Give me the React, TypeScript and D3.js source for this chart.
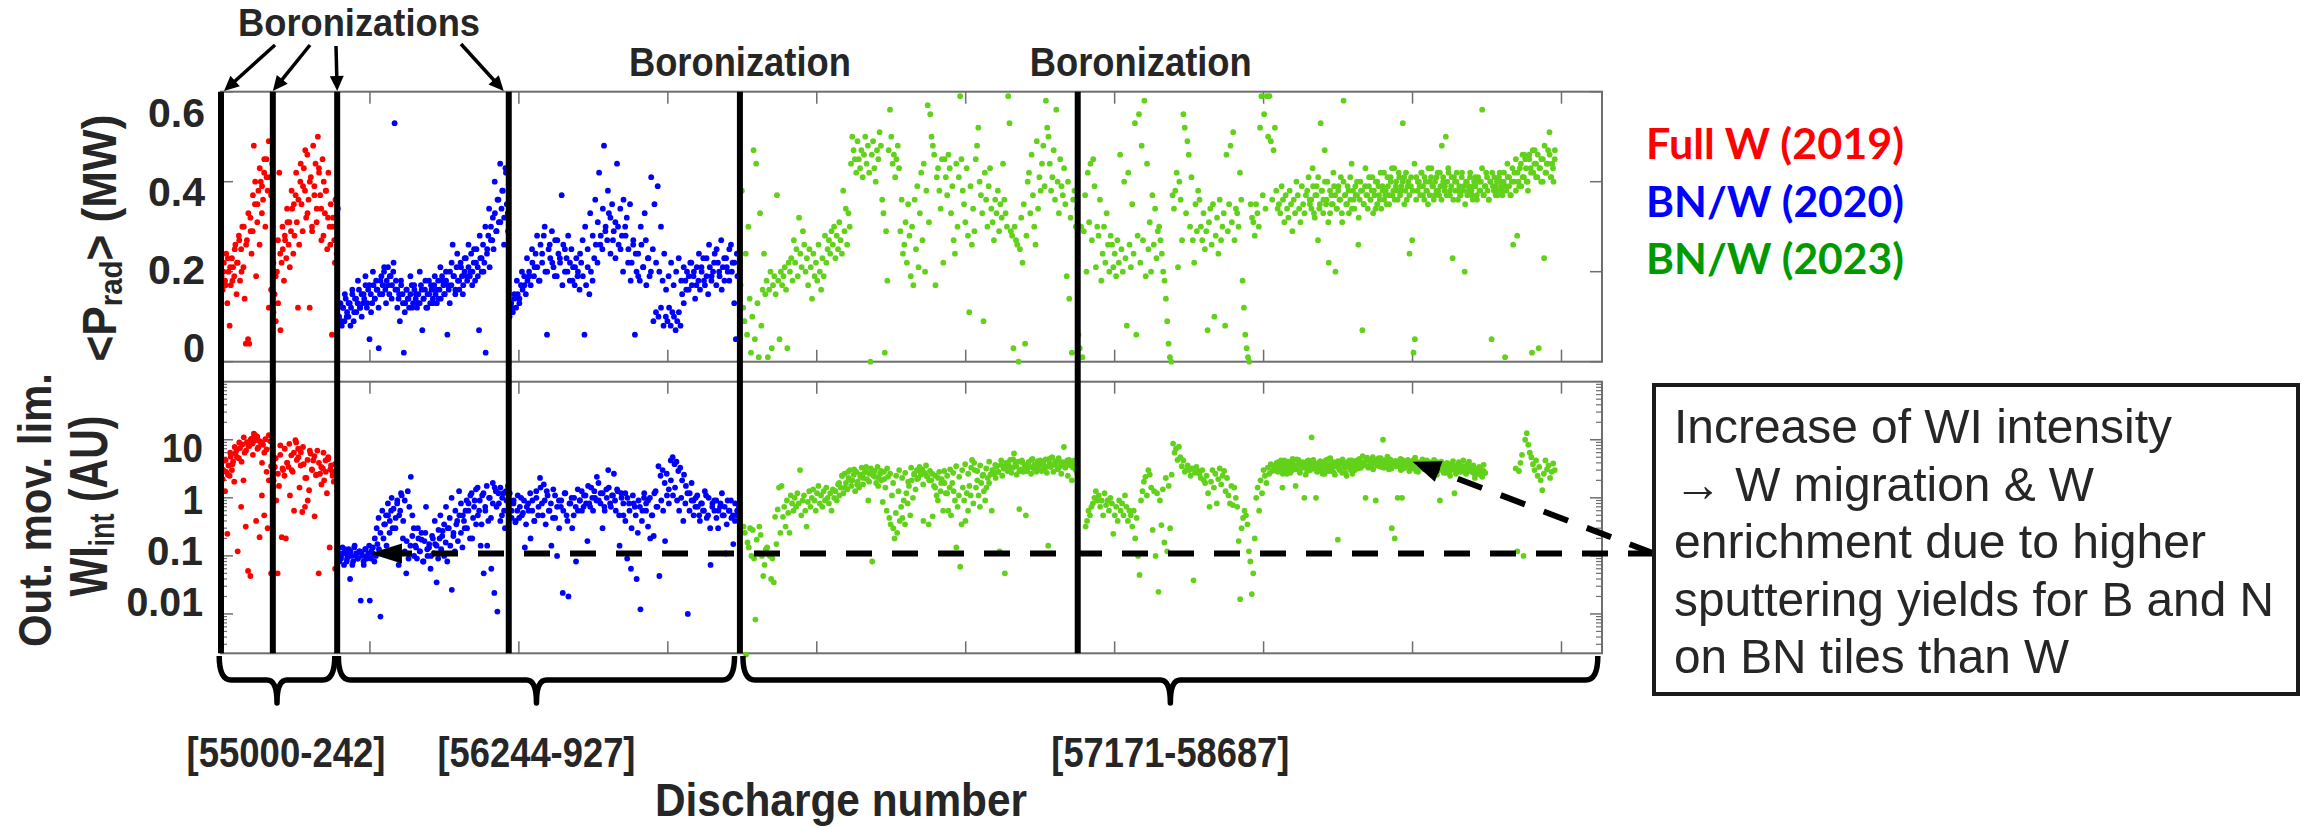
import React from 'react';
import * as d3 from 'd3';

const FONT = "'Liberation Sans', Arial, Helvetica, sans-serif";
const TXT = '#262626';

// ---------- axes / annotation data ----------
const shotDomain = [0, 2318];
const boronizationShots = [0, 87, 195, 483, 871, 1438];
const xTickShots = [250, 500, 750, 1000, 1250, 1500, 1750, 2000, 2250];
const pradTicks = [0, 0.2, 0.4, 0.6];
const pradTickLabels = ['0', '0.2', '0.4', '0.6'];
const wiTicks = [0.01, 0.1, 1, 10];
const wiTickLabels = ['0.01', '0.1', '1', '10'];
const campaignSpans = [[-3, 191], [197, 862], [876, 2311]];
const campaignLabels = ['[55000-242]', '[56244-927]', '[57171-58687]'];
const legendLabels = ['Full W (2019)', 'BN/W (2020)', 'BN/W (2023)'];
const noteLines = ['Increase of WI intensity', '\u2192 W migration & W', 'enrichment due to higher', 'sputtering yields for B and N', 'on BN tiles than W'];
const refLevelWI = 0.11;
const refArrowShot = 250;
const highlightShot = 2000;
const highlightWI = 4.2;

// ---------- <P_rad> (MW) ----------
const redTopA = [.19,.16,.22,.18,.24,.13,.2,.08,.17,.23,.21,.19,.26,.15,.22,.28,.18,.25,.3,.21,.14,.04,.27,.05,.04,.32,.24,.29,.48,.35,.19,.31,.38,.26,.4,.33,.36,.42,.3,.45,.38,.49,.41,.37,.44];
const redTopB = [.11,.15,.09,.2,.13,.42,.07,.22,.25,.18,.27,.23,.31,.26,.21,.29,.34,.24,.28,.37,.31,.12,.26,.4,.35,.29,.43,.38,.32,.46,.36,.12,.41,.3,.48,.39,.44,.34,.5,.42,.37,.27,.45,.4,.33,.38,.25,.42,.3,.35,.06,.32,.27,.36,.24];
const redTopC = [.2,.17,.23,.21,.18,.25,.22,.27,.2,.3,.26,.33,.29,.37,.4,.35,.43,.39,.45,.41,.12,.16,.22,.19,.27,.24,.3,.28,.34,.31,.38,.35,.42,.36,.44,.39,.47,.33,.4,.29,.37,.31,.43,.34,.28,.38,.32,.26,.3,.22];
const blueTopA = [.34,.1,.13,.08,.12,.09,.14,.11,.1,.13,.12,.15,.09,.14,.11,.13,.16,.12,.15,.13,.14,.17,.12,.16,.05,.15,.13,.17,.14,.18,.16,.03,.15,.19,.17,.2,.16,.18,.21,.15,.19,.17,.2,.53,.18,.16,.14,.09,.17,.15,.02,.13,.16,.14,.12,.15,.17,.13,.16,.14,.12,.15,.13,.17,.07,.14,.16,.12,.15,.18,.13,.16,.14,.17,.15,.13,.18,.16,.14,.19,.17,.15,.18,.06,.16,.2,.17,.26,.19,.15,.21,.18,.16,.22,.19,.17,.2,.23,.18,.21,.19,.24,.2,.22,.18,.25,.21,.07,.23,.2,.26,.22,.02,.24,.28,.21,.3,.27,.25,.33,.29,.36,.31,.44,.34,.38,.32,.43,.35,.29];
const blueTopA2 = [.09,.12,.15,.1,.13,.08,.16,.11,.14,.18,.12,.1,.15,.19,.13,.17,.11,.2,.14,.16,.12,.18,.15,.21,.13,.17,.19,.14,.22,.16,.12,.15,.18,.13,.11,.16,.14,.19,.12,.17,.15,.13,.2,.16,.14,.18,.12,.15,.17,.13,.19,.16,.14,.21,.18,.15,.2,.17,.13,.22,.19,.16,.24,.18,.21,.15,.23,.19,.26,.2,.17,.25,.22,.19,.28,.23,.2,.3,.25,.34,.27,.32,.4,.29,.36,.31,.38,.26,.42,.33];
const blueTopB = [.1,.13,.11,.14,.12,.15,.13,.17,.16,.19,.15,.18,.2,.17,.22,.19,.24,.21,.18,.26,.22,.28,.2,.06,.25,.23,.29,.21,.27,.19,.24,.22,.37,.26,.2,.23,.28,.18,.25,.21,.17,.23,.2,.16,.22,.19,.06,.17,.21,.15,.2,.18,.23,.26,.22,.42,.28,.25,.48,.3,.27,.33,.24,.35,.29,.31,.44,.26,.34,.28,.36,.3,.32,.25,.35,.22,.27,.06,.2,.24,.18,.26,.21,.33,.17,.23,.19,.41,.25,.35,.22,.39,.2,.3,.18,.24,.1,.09,.12,.08,.11,.1,.07,.09,.11,.08,.15,.13,.18,.2,.16,.22,.17,.19,.14,.21,.18,.16,.2,.23,.17,.19,.15,.21,.18,.2,.24,.17,.22,.19,.27,.21,.18,.23,.2,.25,.26,.22,.13,.05,.19,.24];
const blueTopB2 = [.12,.15,.18,.14,.2,.17,.23,.19,.25,.21,.28,.18,.24,.3,.2,.26,.22,.19,.27,.23,.17,.25,.2,.22,.18,.21,.19,.24,.27,.3,.25,.33,.28,.36,.31,.26,.34,.29,.38,.32,.27,.23,.3,.25,.2,.28,.22,.18,.26,.24,.19,.3,.21,.27,.23,.2,.09,.11,.1,.12,.08,.16,.19,.22,.17,.2,.23,.18,.21,.16,.19,.22,.2,.17,.24,.21,.18,.23,.26,.19,.22,.25,.2,.16,.23,.21,.18,.2,.22,.24];
const greenTopA = [
  .17,.38,.12,.09,.24,.06,.3,.14,.02,.1,.47,.05,.44,.13,.01,.33,.08,.16,
  .24,.15,.18,.01,.16,.2,.03,.17,.19,.15,.37,.18,.05,.2,.17,.19,.21,.16,.03,.22,
  .2,.23,.18,.27,.22,.25,.19,.32,.24,.21,.29,.26,.2,.23,.17,.25,.21,.14,.24,.19,.22,.18,.26,.2,.16,.23,.19,.28,.22,.25,
  .27,.24,.29,.26,.3,.23,.28,.25,.31,.27,.24,.38,.29,.34,.26,.33,.3,.44,.5,.47,.45,.42,
  .49,.45,.43,.47,.41,.46,.5,.44,.48,.42,0,.46,.49,.43,.4,.47,.45,.51,.48,.36,.33,.02,.29,.18,.47,.56,.5,.44,.46,.41,.45,.48,.43,.29,.36,
  .24,.26,.31,.22,.35,.28,.19,.3,.17,.36,.25,.39,.21,.33,.42,.27,.44,.2,.38,.57,.31,.55,.5,.48,.46,.17,.41,.43,.38,.34,.45,.22,
  .45,.41,.37,.46,.43,.33,.39,.27,.24,.44,.3,.41,.59,.45,.38,.35,.31,.43,.28,.11,.39,.26,.34,.29,.45,.48,.52,.4,.37,.33,.09,.42,.36,.3,.39,.43,.34,.31,.27,.36,.33,.38,.29,.35,.32,
  .44,.36,.33,.3,.59,.53,.29,.28,.03,.3,.27,.26,0,.25,.32,.22,.35,.04,.28,.4,.42,.33,.46,.37,.3,.26,.49,.34,.41,.38,
  .44,.48,.39,.58,.52,.5,.44,.38,.41,.47,.36,.56,.4,.33,.45,.39,.37,.43,.35,.19,.4,.14,.32,.02,.36,.38,.3,.34];
const greenTopB = [
  .06,.03,.3,.01,.29,.37,.2,.42,.31,.44,.27,.45,.39,.21,.3,.28,.36,.18,.24,.3,.22,.33,.26,.2,.28,
  .26,.21,.24,.19,.27,.22,.46,.25,.2,.4,.23,.08,.42,.26,.21,.35,.24,.53,.06,.28,.55,.22,.48,.27,.58,.19,.44,.25,.31,.2,.37,.26,.34,.23,.29,
  .3,.27,.24,.2,.18,.14,.09,.04,.01,0,.37,.34,.38,.42,.21,.4,.36,.27,.55,.52,.33,.49,.46,.3,.41,.27,.22,.35,.29,.38,
  .36,.3,.27,.33,.25,.29,.07,.31,.34,.26,.35,.1,.28,.32,.24,.36,.27,.3,.33,.08,.46,.29,.35,.48,.31,.51,.27,.34,.33,.3,.42,.36,.18,.12,.06,.03,.01,0,
  .35,.32,.31,.28,.35,.33,.3,.52,.59,.37,.55,.34,.59,.5,.59,.49,.36,.47,.52,.38,.34,.35,.33,.39,.36,.31,.37,.34,.32,.38,.35,.29,.36,.33,.4,.37,.34,.31,.39,.35,.33,.37,
  .38,.41,.35,.36,.43,.33,.37,.39,.27,.34,.53,.38,.36,.47,.35,.4,.22,.33,.37,.35,.39,.2,.34,.38,.36,.41,.31,.58,.37,.35,.39,.33,.36,.44,.38,.34,.37,.4,.26,.36,.38,.07,.35,.39,.37,.34,.41,.36,.38,.33,.37,.4,.35,.39,.36,.34,.38,.42,.37,.35,
  .39,.37,.41,.43,.38,.36,.4,.38,.42,.37,.39,.53,.41,.38,.36,.4,.24,.39,.27,.02,.05,.41,.38,.4,.37,.42,.39,.36,.4,.38,.43,.37,.41,.39,.36,.4,.38,.42,.37,.39,.48,.41,.38,.5,.4,.42,.37,.39,.23,.41,.38,.4,.36,.39,.37,.42,.38,.2,.4,.37,.39,.41,.38,.36,.4,
  .39,.37,.41,.38,.4,.56,.37,.39,.42,.38,.36,.4,.05,.39,.41,.37,.4,.38,.42,.39,.37,.4,.01,.38,.41,.39,.37,.4,.26,.42,.38,.28,.4,.43,.39,.46,.41,.45,.4,.38,.46,.43,.02,.42,.47,.44,.41,.03,.43,.45,.4,.23,.42,.44,.47,.51,.41,.44,.4,.47];
const greenTopB2 = [.36,.34,.39,.32,.37,.41,.35,.38,.33,.4,.36,.31,.38,.35,.42,.37,.34,.39,.36,.33,.4,.37,.35,.38,.41,.34,.36,.39,.37,.32,.4,.38,.35,.43,.37,.39,.36,.41,.38,.34,.4,.37,.42,.39,.36,.38,.41,.35,.4,.37,.43,.39,.36,.41,.38,.4,.35,.42,.39,.37,.41,.38,.44,.36,.4,.39,.42,.37,.41,.38,.35,.4,.43,.39,.37,.41,.38,.42,.36,.4,.39,.37,.43,.38,.41,.36,.4,.42,.38,.37,.41,.39,.35,.4,.38,.42,.37,.39,.41,.36,.4,.38,.43,.37,.39,.41,.36,.4,.42,.38,.39,.37,.41,.4,.38,.42,.39,.44,.41,.37,.43,.4,.45,.42,.39,.44,.41,.46,.43,.4,.45,.42,.47,.44,.41,.46,.43,.4,.45,.48,.42,.44,.46,.41,.43,.45];

// ---------- WI_int (AU), outer movable limiter ----------
const redBotA = [3.2,2.1,4.4,1.3,2.8,0.24,3.6,2.4,5.1,3,4.2,1.9,5.8,6.6,0.12,4.8,7.2,0.7,8.3,2,6,0.32,9.1,0.055,7.8,0.045,10.5,8.6,12.7,9.8,0.4,11.3,7.4,0.21,9,1.1,8.2,0.5,10.2,6.8,0.3,12,9.5,0.05,7];
const redBotB = [2,3.4,0.9,0.05,1.6,8,0.21,3,2.4,0.2,4,3.4,1.1,5.4,2.8,0.6,9.8,4.5,7,1.5,6.1,0.57,3.8,0.7,2.2,0.9,1.35,5.8,3.1,4.4,0.48,2.45,6.5,0.05,2.6,1.7,3.2,2,4.4,1.2,5,0.14,3.6,2.8,1.9,0.06,3];
const redBotC = [3,4.5,2.5,6,3.8,7.5,5,9,4.2,11,6.5,8,10,5.5,12,7,9.5,4,6,2.8,2,3.5,1.5,4.8,2.6,5.5,3.2,7,4,8.5,3,6,9,5,3.6,7.5,2.2,4.5,6.5,3,5.2,2.5,4,3.4,6,2.8,4.6,3.1,2.4,3.8];
const blueBotA = [0.12,0.08,0.1,0.14,0.07,0.11,0.09,0.13,0.04,0.1,0.08,0.15,0.11,0.09,0.12,0.017,0.1,0.07,0.13,0.09,0.11,0.017,0.12,0.14,0.08,0.1,0.16,0.13,0.009,0.11,0.2,0.35,0.15,0.5,0.25,0.6,0.3,0.1,0.45,0.8,0.07,0.6,1.1,0.4,0.9,0.05,1.3,0.7,2.3,0.5,0.3,0.15,0.09,0.2,0.12,0.25,0.08,0.18,0.7,0.1,0.14,0.06,0.22,0.11,0.16,0.035,0.09,0.2,0.13,0.27,0.1,0.17,0.08,0.3,0.15,0.026,0.22,0.12,0.35,0.18,0.5,0.25,0.14,0.4,0.6,0.3,0.8,0.2,1.2,0.45,0.9,0.35,1.5,0.6,0.15,1.1,0.05,0.7,1.6,0.4,1,0.06,1.8,0.023,1.3,0.011,0.8,1.5,0.5,1.2,0.3,0.9,1.6];
const blueBotA2 = [0.09,0.11,0.13,0.08,0.1,0.12,0.07,0.14,0.1,0.09,0.12,0.11,0.08,0.13,0.1,0.15,0.09,0.11,0.2,0.3,0.45,0.25,0.6,0.35,0.5,0.8,0.4,1,0.65,0.3,0.9,0.5,1.2,0.2,0.12,0.18,0.09,0.15,0.22,0.1,0.14,0.3,0.12,0.19,0.08,0.25,0.13,0.16,0.1,0.2,0.4,0.15,0.28,0.5,0.22,0.35,0.7,0.3,0.45,1,0.25,0.6,0.4,1.3,0.8,0.5,0.3,0.9,0.6,1.1,0.2,0.7,1.4,0.5,0.9,0.35,1.2,0.6,0.15,1,0.45,0.8,1.5,0.7,1.2,0.4,1,0.6,1.3,0.9];
const blueBotB = [1.2,0.45,0.8,0.38,0.6,0.45,1,0.55,0.14,0.7,0.6,0.2,0.9,0.4,1.3,0.5,2.2,0.8,1.7,0.35,1.1,0.6,0.15,1.4,0.45,0.1,0.9,0.7,0.023,1.2,0.5,0.02,0.8,0.3,1,0.08,0.6,0.9,1.3,0.7,1.1,0.18,0.8,1.5,0.6,1,2.3,0.9,1.2,0.3,0.7,1.4,3,0.8,1.1,2.6,0.6,1.3,0.15,1,0.5,1.2,0.09,0.8,0.06,1.1,0.7,0.04,0.9,0.012,0.6,1.2,0.8,0.32,1,0.5,0.22,1.3,0.7,0.045,0.9,0.6,0.18,1.1,0.8,4.4,5,3.8,4.2,2.9,3.3,2,2.5,1.6,0.01,1.2,1.8,0.9,0.7,1.1,0.5,0.8,0.6,1.3,0.45,1,0.07,0.8,0.6,0.9,0.3,0.7,1.2,0.5,0.11,0.9,0.6,0.45,0.16,0.8,0.5,0.7];
const blueBotB2 = [0.6,0.9,0.4,1.1,0.7,0.5,0.9,0.35,0.8,1.2,0.6,0.4,1,0.7,1.5,0.5,0.9,1.3,0.6,0.8,0.45,1.1,0.7,0.3,0.9,0.6,1.2,0.4,0.8,1,0.5,0.7,1.4,0.9,0.6,1.1,0.8,1.6,0.7,1,1.3,0.9,1.8,0.8,1.2,0.6,1,1.5,0.7,1.1,0.9,1.4,0.5,1.2,0.8,0.4,1,0.6,0.3,0.8,0.5,0.25,0.7,0.4,1,0.6,0.9,0.2,0.5,1.2,0.7,3.5,2.4,3,1.8,2.6,1.4,2,1.1,1.5,0.9,0.6,1,0.4,0.8,1.2,0.6,0.9,0.5,1,0.7,0.4,0.8,0.6,1.1,0.5,0.3,0.7,0.9,0.45,0.6,0.8,0.5,0.7,0.35,0.6,0.9,0.5,0.4,0.6];
const greenBotA = [
  0.32,0.25,0.002,0.17,0.14,0.3,0.1,0.28,0.09,0.008,0.19,0.11,0.32,0.23,0.1,0.045,0.07,0.13,
  0.14,0.11,0.1,0.04,0.09,0.035,0.47,0.16,0.63,1.5,0.25,1.6,0.47,0.7,0.32,0.9,0.55,0.25,1.1,0.8,
  0.6,1,0.7,1.2,0.8,3,0.5,0.9,1.1,0.6,0.32,0.85,1.3,0.7,1,1.4,0.9,0.6,1.2,1.6,0.8,1.1,0.7,1.3,0.9,1.5,1,0.8,1.2,0.6,1.4,1,
  1.3,0.9,1.7,1.1,1.5,2.4,1.2,2.6,1.8,1.4,2.2,3,1.6,2,2.5,1.3,2.8,1.9,1.5,2.3,3.3,1.7,2.7,3,2.1,0.9,2.6,3.2,0.08,2.4,2.9,1.8,3.4,2.2,2.6,2,0.85,2.8,1.5,0.6,2.3,0.45,0.35,1.1,0.3,0.2,0.55,0.25,1.3,0.4,
  0.7,0.45,0.9,0.35,1.2,0.8,1.6,0.5,2,1,2.6,1.4,3,2.2,3.4,2.5,3.1,0.4,2.7,3.6,2.3,0.35,2.9,2,0.48,1.6,2.4,1.1,0.9,2.8,1.3,2.1,0.6,1.8,1.2,
  1.2,0.6,1.5,0.5,1.8,1.3,0.9,0.14,0.7,1.1,0.065,0.35,1.5,0.9,0.4,1.2,0.6,1.6,1.1,4.5,0.8,3,1.5,2,1.1,0.7,1.8,2.4,1.3,0.9,
  1.5,2.2,1.8,2.5,0.6,3,2.6,2.2,3.5,2.8,0.12,3.7,2.4,3.2,0.05,4,2.9,3.6,4.5,2.7,3.3,5.8,3.9,2.5,4.2,0.64,3.1,4.4,2.8,3.7,0.5,2.9,4.1,3.4,2.6,4.7,3.2,3.8,2.8,4.3,
  3.5,4.4,2.9,3.9,3.2,4.6,2.7,0.15,4,3.4,5,2.8,3.7,4.2,3.1,4.8,3.5,2.6,4.1,7.5,3.3,3.9,2.4,4.5,3.6,2,3.8,4.4,3,2.7];
const greenBotA2 = [1.8,2.4,1.5,2.8,2,3.1,1.7,2.5,2.2,3.4,1.9,2.7,2.3,1.6,2.9,2.1,3.2,2.6,1.8,2.4,3,2.2,2.7,1.9,3.3,2.5,2.1,2.8,1.7,2.4,2,2.6,1.5,2.2,1.8,2.9,2.4,3.1,2.7,3.5,2.3,3,3.8,2.6,3.3,4,2.9,3.6,2.5,3.2,4.2,3,3.7,2.8,4.4,3.4,3.9,3.1,4.6,3.5,2.9,4.1,3.3,3.8,4.5,3.6,3.1,4.2,3.9,3.4,4.7,3.7,4.3,3.2,4,3.6,4.4,3.8,3.3,4.1];
const greenBotB1 = [
  0.32,0.4,0.6,0.5,0.7,0.8,1,1.3,0.9,1.1,0.7,0.9,0.5,1.2,0.75,0.9,0.6,1,0.8,0.24,0.5,0.7,0.4,0.9,0.6,0.8,0.5,1.1,0.7,0.4,0.6,0.5,
  0.32,0.6,0.2,0.45,0.1,0.047,0.9,1.3,1.9,2.3,1.1,3,2.5,1.5,0.28,1.3,0.1,1.2,0.024,0.9,0.34,1.4,0.17,2.2,0.12,1.6,0.3,2.5,
  8.6,6,7,4.5,7.6,5,3.5,4.4,2.8,3,3.6,3,2.4,3.2,0.038,2.7,3.4,2.9,
  2.6,2.2,3,2,1.8,2.4,1.2,0.7,1.9,3,1.5,2.6,0.8,2.1,3.2,1.7,2.4,2.9,1.3,2.2,1.1,0.8,1.6,0.75,
  1.5,1,0.7,0.18,0.018,0.3,0.45,0.6,0.5,0.35,0.12,0.08,0.022,0.05,0.2,1,1.5,0.6,2,1.2,3,2.4,1.8,3.3,2.6,3.8,2.9,3.5,
  3.3,4,2.8,3.6,4.4,1.5,3.1,3.9,2.6,4.2,3.4,2.9,4.7,3.7,1.6,3.2,4.5,2.7,3.8,4.1,1,3.5,2.9,4.4,3.2,11,3.7,4,1,2.8,3.5,4.3,3,3.9,2.6,3.4,4.6,2.9,3.8,3.3,4.1,2.5,3.6,0.19,3.1,4.2,2.7,3.9,3.3,2.4,3.7,4.4,3,2.6,3.5,
  3.8,4.4,3.2,4.1,3.5,5.2,3.9,1,4.6,3.3,4.3,3.7,5,4.1,0.9,3.6,4.8,4.2,3.4,10,4.4,3.8,5.1,3.1,4.5,0.3,3.9,0.2,4.3,1,3.5,4.7,1,3.2,4.1,3.6,4.5,2.9,3.8,4.2,3.3,4.9,3.7,2.8,4,3.4,4.6,3.1,
  3.9,4.4,3.2,4.1,2.8,3.7,4.5,3.3,2.5,3.9,0.9,4.2,3.1,3.6,2.7,4,3.4,2.4,3.8,4.3,1.2,3,3.6,4.1,2.9,3.5,4.4,3.2,2.6,3.8,4.2,3.3,2.8,3.6,2.2,3.1,2.6,3.4,2.9,2.3,3.7,2.7];
const greenBotB1b = [3.6,2.9,4.1,3.2,3.8,2.6,4.4,3.4,3,3.9,2.7,4.2,3.5,3.1,4.6,3.7,2.8,4,3.3,3.8,2.5,4.3,3.6,3,3.9,4.5,3.2,2.9,3.7,4.1,3.4,2.6,3.9,4.4,3.1,3.6,4.8,3.3,2.8,4,3.5,4.3,3,3.8,4.6,3.4,2.7,4.1,3.6,3.2,4.4,3.9,3,4.2,3.5,4.7,3.3,3.8,4.1,3.6,4.9,3.4,4.3,3.7,3.1,4.5,3.9,4.2,3.5,4.8,3.8,3.3,4.4,4,3.6,4.6,3.2,3.9,4.3,3.5,4.1,3.7,3,4.5,3.8,3.4,4.2,3.6,4,3.2,4.4,3.7,2.9,4.1,3.5,3.9,3.3,4.3,3.1,3.7,4,3.4,2.8,3.9,3.5,3.2,4.1,3,3.6,3.3,2.7,3.8,3.1,3.5,2.9,3.4,3.7,3,2.6,3.3,3.6,2.8,3.1,3.5,2.7,3.2,3.4,2.9,3,3.3,2.6,3.1,2.8,3.2,2.5,3,2.9,2.7];
const greenBotB2 = [3.2,0.12,2.9,4,5.5,0.1,10,13,8.2,6,5,3.8,3,4.4,2.4,3.4,2,1.35,2.6,4.4,3.1,3.6,2.2,2.8,3.9,3];

const pradSegments = [
  { campaign: 0, shots: [0, 87], values: redTopA },
  { campaign: 0, shots: [87, 195], values: redTopB },
  { campaign: 0, shots: [2, 193], values: redTopC },
  { campaign: 1, shots: [195, 483], values: blueTopA },
  { campaign: 1, shots: [200, 483], values: blueTopA2 },
  { campaign: 1, shots: [483, 871], values: blueTopB },
  { campaign: 1, shots: [486, 868], values: blueTopB2 },
  { campaign: 2, shots: [871, 1438], values: greenTopA },
  { campaign: 2, shots: [1438, 2240], values: greenTopB },
  { campaign: 2, shots: [1826, 2240], values: greenTopB2 },
];
const wiSegments = [
  { campaign: 0, shots: [0, 87], values: redBotA },
  { campaign: 0, shots: [87, 195], values: redBotB },
  { campaign: 0, shots: [2, 193], values: redBotC },
  { campaign: 1, shots: [195, 483], values: blueBotA },
  { campaign: 1, shots: [200, 483], values: blueBotA2 },
  { campaign: 1, shots: [483, 871], values: blueBotB },
  { campaign: 1, shots: [486, 868], values: blueBotB2 },
  { campaign: 2, shots: [876, 1438], values: greenBotA },
  { campaign: 2, shots: [1035, 1438], values: greenBotA2 },
  { campaign: 2, shots: [1450, 2123], values: greenBotB1 },
  { campaign: 2, shots: [1768, 2123], values: greenBotB1b },
  { campaign: 2, shots: [2172, 2240], values: greenBotB2 },
];

const dotColors = ['#ff0000', '#0000ff', '#62d11a'];
const legendColors = ['#ff0000', '#0000ff', '#009a00'];

function spread(seg) {
  const [a, b] = seg.shots;
  const step = (b - a) / seg.values.length;
  return seg.values.map((v, i) => ({ s: a + (i + 0.5) * step, v, c: seg.campaign }));
}

function arrowHead(x1, y1, x2, y2, len, half) {
  const dx = x2 - x1, dy = y2 - y1;
  const L = Math.hypot(dx, dy);
  const ux = dx / L, uy = dy / L;
  const bx = x2 - ux * len, by = y2 - uy * len;
  const px = -uy, py = ux;
  return {
    pts: `${x2},${y2} ${bx + px * half},${by + py * half} ${bx - px * half},${by - py * half}`,
    ex: x2 - ux * len * 0.7,
    ey: y2 - uy * len * 0.7,
  };
}

function bracePath(x0, x1) {
  const yT = 656, yB = 680, yTip = 703, r = 12, m = (x0 + x1) / 2;
  return `M${x0},${yT} Q${x0},${yB} ${x0 + r},${yB} L${m - 10},${yB} Q${m},${yB} ${m},${yTip} Q${m},${yB} ${m + 10},${yB} L${x1 - r},${yB} Q${x1},${yB} ${x1},${yT}`;
}

function tickWidth(s, d, p) {
  let w = 0;
  for (const ch of s) w += ch === '.' ? p : d;
  return w;
}

export default function App() {
  const x = d3.scaleLinear().domain(shotDomain).range([221, 1602]);
  const yTop = d3.scaleLinear().domain([0, 0.6]).range([361.7, 91.7]);
  const yBot = d3.scaleLog().domain([0.0021, 100]).range([653.3, 381.7]);
  const yTopLab = d3.scaleLinear().domain([0, 0.6]).range([348, 113]);
  const yBotLab = d3.scaleLog().domain([0.01, 10]).range([602, 448]);

  const x0 = x.range()[0], x1 = x.range()[1];
  const topY0 = yTop.range()[1], topY1 = yTop.range()[0];
  const botY0 = yBot.range()[1], botY1 = yBot.range()[0];

  const topPts = pradSegments.flatMap(spread);
  const botPts = wiSegments.flatMap(spread);

  const minor = [];
  for (let e = -3; e <= 1; e++) {
    for (let k = 2; k <= 9; k++) {
      const v = k * Math.pow(10, e);
      if (v > 0.0021 && v < 100) minor.push(v);
    }
  }
  const majors = [0.01, 0.1, 1, 10];

  const frame = '#6e6e6e';
  const tickLen = 12;

  const borArrowStarts = [[275, 45], [310, 45], [336, 46], [461, 44]];
  const borArrowTips = [0, 1, 2, 3].map((i) => [x(boronizationShots[i]) + [3, 0, 0, -5][i], 91]);

  const boxX = 1654, boxY = 385, boxW = 644, boxH = 309;
  const yRef = yBot(refLevelWI);
  const hArrow = arrowHead(boxX, yRef, x(refArrowShot), yRef, 32, 10);
  const dArrow = arrowHead(boxX, yRef, x(highlightShot), yBot(highlightWI), 28, 11);

  return (
    <svg width={2303} height={828} style={{ position: 'absolute', left: 0, top: 0, background: '#fff' }} fontFamily={FONT}>
      <rect x={0} y={0} width={2303} height={828} fill="#fff" />

      <rect x={x0} y={topY0} width={x1 - x0} height={topY1 - topY0} fill="none" stroke={frame} strokeWidth={2} />
      <rect x={x0} y={botY0} width={x1 - x0} height={botY1 - botY0} fill="none" stroke={frame} strokeWidth={2} />

      {xTickShots.map((s) => (
        <g key={'xt' + s} stroke={frame} strokeWidth={1.5}>
          <line x1={x(s)} x2={x(s)} y1={topY0} y2={topY0 + tickLen} />
          <line x1={x(s)} x2={x(s)} y1={topY1} y2={topY1 - tickLen} />
          <line x1={x(s)} x2={x(s)} y1={botY0} y2={botY0 + tickLen} />
          <line x1={x(s)} x2={x(s)} y1={botY1} y2={botY1 - tickLen} />
        </g>
      ))}

      {pradTicks.map((v) => (
        <g key={'pt' + v} stroke={frame} strokeWidth={1.5}>
          <line x1={x0} x2={x0 + 12} y1={yTop(v)} y2={yTop(v)} />
          <line x1={x1} x2={x1 - 12} y1={yTop(v)} y2={yTop(v)} />
        </g>
      ))}
      {majors.map((v) => (
        <g key={'mj' + v} stroke={frame} strokeWidth={1.5}>
          <line x1={x0} x2={x0 + 12} y1={yBot(v)} y2={yBot(v)} />
          <line x1={x1} x2={x1 - 12} y1={yBot(v)} y2={yBot(v)} />
        </g>
      ))}
      {minor.map((v) => (
        <g key={'mn' + v} stroke={frame} strokeWidth={1.2}>
          <line x1={x0} x2={x0 + 6} y1={yBot(v)} y2={yBot(v)} />
          <line x1={x1} x2={x1 - 6} y1={yBot(v)} y2={yBot(v)} />
        </g>
      ))}

      <g>
        {topPts.map((p, i) => (
          <circle key={'t' + i} cx={x(p.s)} cy={yTop(p.v)} r={2.9} fill={dotColors[p.c]} />
        ))}
        {botPts.map((p, i) => (
          <circle key={'b' + i} cx={x(p.s)} cy={yBot(p.v)} r={2.9} fill={dotColors[p.c]} />
        ))}
      </g>

      {boronizationShots.map((s) => (
        <line key={'bl' + s} x1={x(s)} x2={x(s)} y1={topY0} y2={botY1} stroke="#000" strokeWidth={6} />
      ))}

      {pradTicks.map((v, i) => (
        <text key={'ptl' + v} x={205} y={yTopLab(v)} dy="0.36em" textAnchor="end"
          fontSize={40} fontWeight="bold" fill={TXT}
          textLength={tickWidth(pradTickLabels[i], 22, 13)} lengthAdjust="spacingAndGlyphs">{pradTickLabels[i]}</text>
      ))}
      {wiTicks.map((v, i) => (
        <text key={'wtl' + v} x={203} y={yBotLab(v)} dy="0.36em" textAnchor="end"
          fontSize={40} fontWeight="bold" fill={TXT}
          textLength={tickWidth(wiTickLabels[i], 20.5, 15)} lengthAdjust="spacingAndGlyphs">{wiTickLabels[i]}</text>
      ))}

      <text transform="translate(116,238) rotate(-90) scale(0.92,1)" textAnchor="middle" fontSize={48} fontWeight="bold" fill={TXT}>
        {'<P'}<tspan fontSize={32} dy={6}>rad</tspan><tspan dy={-6}>{'> (MW)'}</tspan>
      </text>
      <text transform="translate(51,510) rotate(-90) scale(1,1.07)" textAnchor="middle" fontSize={44} fontWeight="bold" fill={TXT}
        textLength={274} lengthAdjust="spacingAndGlyphs">Out. mov. lim.</text>
      <text transform="translate(107,506) rotate(-90) scale(1,1.3)" textAnchor="middle" fontSize={41} fontWeight="bold" fill={TXT}>
        WI<tspan fontSize={27} dy={5}>int</tspan><tspan dy={-5}> (AU)</tspan>
      </text>

      <text x={359} y={36} textAnchor="middle" fontSize={38} fontWeight="bold" fill={TXT} textLength={242} lengthAdjust="spacingAndGlyphs">Boronizations</text>
      <text x={x(boronizationShots[4])} y={76} textAnchor="middle" fontSize={40} fontWeight="bold" fill={TXT} textLength={222} lengthAdjust="spacingAndGlyphs">Boronization</text>
      <text x={x(boronizationShots[5]) + 63} y={76} textAnchor="middle" fontSize={40} fontWeight="bold" fill={TXT} textLength={222} lengthAdjust="spacingAndGlyphs">Boronization</text>

      {borArrowStarts.map((st, i) => {
        const tip = borArrowTips[i];
        const ah = arrowHead(st[0], st[1], tip[0], tip[1], 15, 7);
        return (
          <g key={'ba' + i}>
            <line x1={st[0]} y1={st[1]} x2={ah.ex} y2={ah.ey} stroke="#000" strokeWidth={3.5} />
            <polygon points={ah.pts} fill="#000" />
          </g>
        );
      })}

      {campaignSpans.map((sp, i) => {
        const a = x(sp[0]), b = x(sp[1]);
        return (
          <g key={'br' + i}>
            <path d={bracePath(a, b)} fill="none" stroke="#000" strokeWidth={5.5} strokeLinejoin="round" />
            <text x={(a + b) / 2 + (i === 0 ? 9 : 0)} y={767} textAnchor="middle" fontSize={42} fontWeight="bold" fill={TXT}
              textLength={[199, 198, 238][i]} lengthAdjust="spacingAndGlyphs">{campaignLabels[i]}</text>
          </g>
        );
      })}
      <text x={841} y={816} textAnchor="middle" fontSize={46} fontWeight="bold" fill={TXT} textLength={372} lengthAdjust="spacingAndGlyphs">Discharge number</text>

      {legendLabels.map((l, i) => (
        <text key={'lg' + i} x={1646} y={159 + i * 57.5} fontFamily="Lato, 'Open Sans', sans-serif" fontWeight="bold" fontSize={42}
          fill={legendColors[i]} textLength={258} lengthAdjust="spacingAndGlyphs">{l}</text>
      ))}

      <line x1={boxX} y1={yRef} x2={hArrow.ex} y2={yRef} stroke="#000" strokeWidth={6} strokeDasharray="26 20" />
      <polygon points={hArrow.pts} fill="#000" />
      <line x1={boxX} y1={yRef} x2={dArrow.ex} y2={dArrow.ey} stroke="#000" strokeWidth={6} strokeDasharray="26 20" />
      <polygon points={dArrow.pts} fill="#000" />

      <rect x={boxX} y={boxY} width={boxW} height={boxH} fill="#fff" stroke="#1a1a1a" strokeWidth={4} />
      {noteLines.map((l, i) => (
        <text key={'nl' + i} x={1674} y={443 + i * 57.5} fontSize={49} fill={TXT}
          textLength={[498, 420, 532, 600, 395][i]} lengthAdjust="spacingAndGlyphs">{l}</text>
      ))}
    </svg>
  );
}
